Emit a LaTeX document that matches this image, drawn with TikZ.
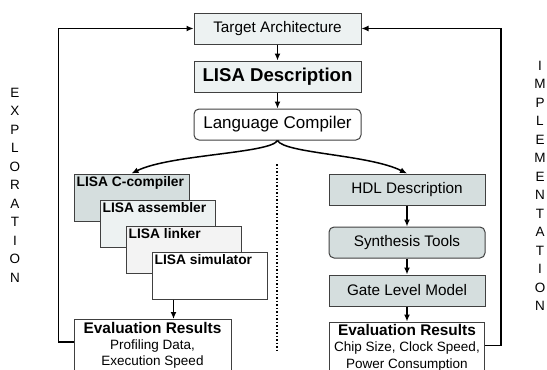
\documentclass[tikz,border=0pt]{standalone}
\usepackage{fontspec}
\setmainfont{Liberation Sans}
\usetikzlibrary{arrows.meta, positioning}

\definecolor{toolgray}{HTML}{D5DEDE}
\definecolor{palegray}{HTML}{EDF2F2}
\definecolor{linkgray}{HTML}{F3F3F3}

\begin{document}
\begin{tikzpicture}[x=1pt, y=-1pt, node distance=16pt, >={Latex[length=7pt,width=6pt]}]
    % Styles
    \tikzstyle{block} = [rectangle, draw=black!75, line width=1pt, minimum width=167pt, minimum height=31pt, inner sep=0pt, font=\fontsize{15.3}{18}\selectfont]
    \tikzstyle{hwblock} = [block, minimum width=156pt, fill=toolgray]
    \tikzstyle{tool} = [rectangle, draw=black!75, line width=1pt, minimum width=115pt, minimum height=47pt]
    \tikzstyle{toolname} = [anchor=north west, inner sep=3pt, font=\fontsize{13.8}{16}\selectfont\bfseries]
    \tikzstyle{result} = [rectangle, draw=black!75, line width=1pt, fill=white, anchor=north, minimum width=157pt, inner xsep=4pt, inner ysep=2.5pt, align=center, font=\fontsize{13.5}{16.3}\selectfont]
    \tikzstyle{arrow} = [line width=1.5pt, ->]
    \tikzstyle{feedback} = [line width=1.2pt, ->]
    \tikzstyle{vword} = [align=center, font=\fontsize{13.5}{18.5}\selectfont]

    \clip (0,0) rectangle (547,370);

    % Description flow
    \node[block, fill=palegray] (target) at (277.5,28.5) {Target Architecture};
    \node[block, fill=palegray, below=of target, font=\fontsize{18.6}{22}\selectfont\bfseries] (lisa) {LISA Description};
    \node[block, rounded corners=5pt, fill=white, below=of lisa, font=\fontsize{17}{20}\selectfont] (langcomp) {Language Compiler};

    % Software tools
    \node[tool, fill=toolgray, label={[toolname]north west:LISA C-compiler}] (ccomp) at (131.5,197.5) {};
    \node[tool, fill=palegray, below right=26pt and 26pt of ccomp.north west, label={[toolname]north west:LISA assembler}] (asm) {};
    \node[tool, fill=linkgray, below right=26pt and 26pt of asm.north west, label={[toolname]north west:LISA linker}] (linker) {};
    \node[tool, fill=white, below right=26pt and 26pt of linker.north west, label={[toolname]north west:LISA simulator}] (sim) {};
    \node[result] (evall) at (152.5,319) {{\fontsize{15.4}{17}\selectfont\bfseries Evaluation Results}\\Profiling Data,\\Execution Speed};

    % Hardware flow
    \node[hwblock] (hdl) at (407,189.5) {HDL Description};
    \node[hwblock, rounded corners=5pt, below=21pt of hdl] (synth) {Synthesis Tools};
    \node[hwblock, below=of synth] (gate) {Gate Level Model};
    \node[result, minimum width=155pt, below=15pt of gate] (evalr) {{\fontsize{15.4}{17}\selectfont\bfseries Evaluation Results}\\Chip Size, Clock Speed,\\Power Consumption};

    % Side captions
    \node[vword] (explore) at (15,185) {E\\X\\P\\L\\O\\R\\A\\T\\I\\O\\N};
    \node[vword] (implement) at (540,186) {I\\M\\P\\L\\E\\M\\E\\N\\T\\A\\T\\I\\O\\N};

    % Divider
    \coordinate (divtop) at (277,164);
    \coordinate (divbot) at (277,353);
    \draw[dotted, line width=1.5pt] (divtop) -- (divbot);

    % Paths
    \draw[arrow] (target) -- (lisa);
    \draw[arrow] (lisa) -- (langcomp);
    \draw[arrow] (langcomp.south) .. controls +(-7,13) and +(38,-19) .. (ccomp.north);
    \draw[arrow] (langcomp.south) .. controls +(7,13) and +(-38,-19) .. (hdl.north);
    \draw[arrow] ([xshift=22pt]sim.south west) -- ([xshift=22pt]sim.south west |- evall.north);
    \draw[arrow] (hdl) -- (synth);
    \draw[arrow] (synth) -- (gate);
    \draw[arrow] (gate) -- (evalr);
    \draw[feedback] ([yshift=-23pt]evall.north west) -- ++(-15,0) |- (target.west);
    \draw[feedback] ([yshift=-24pt]evalr.north east) -- ++(16,0) |- (target.east);
\end{tikzpicture}
\end{document}
